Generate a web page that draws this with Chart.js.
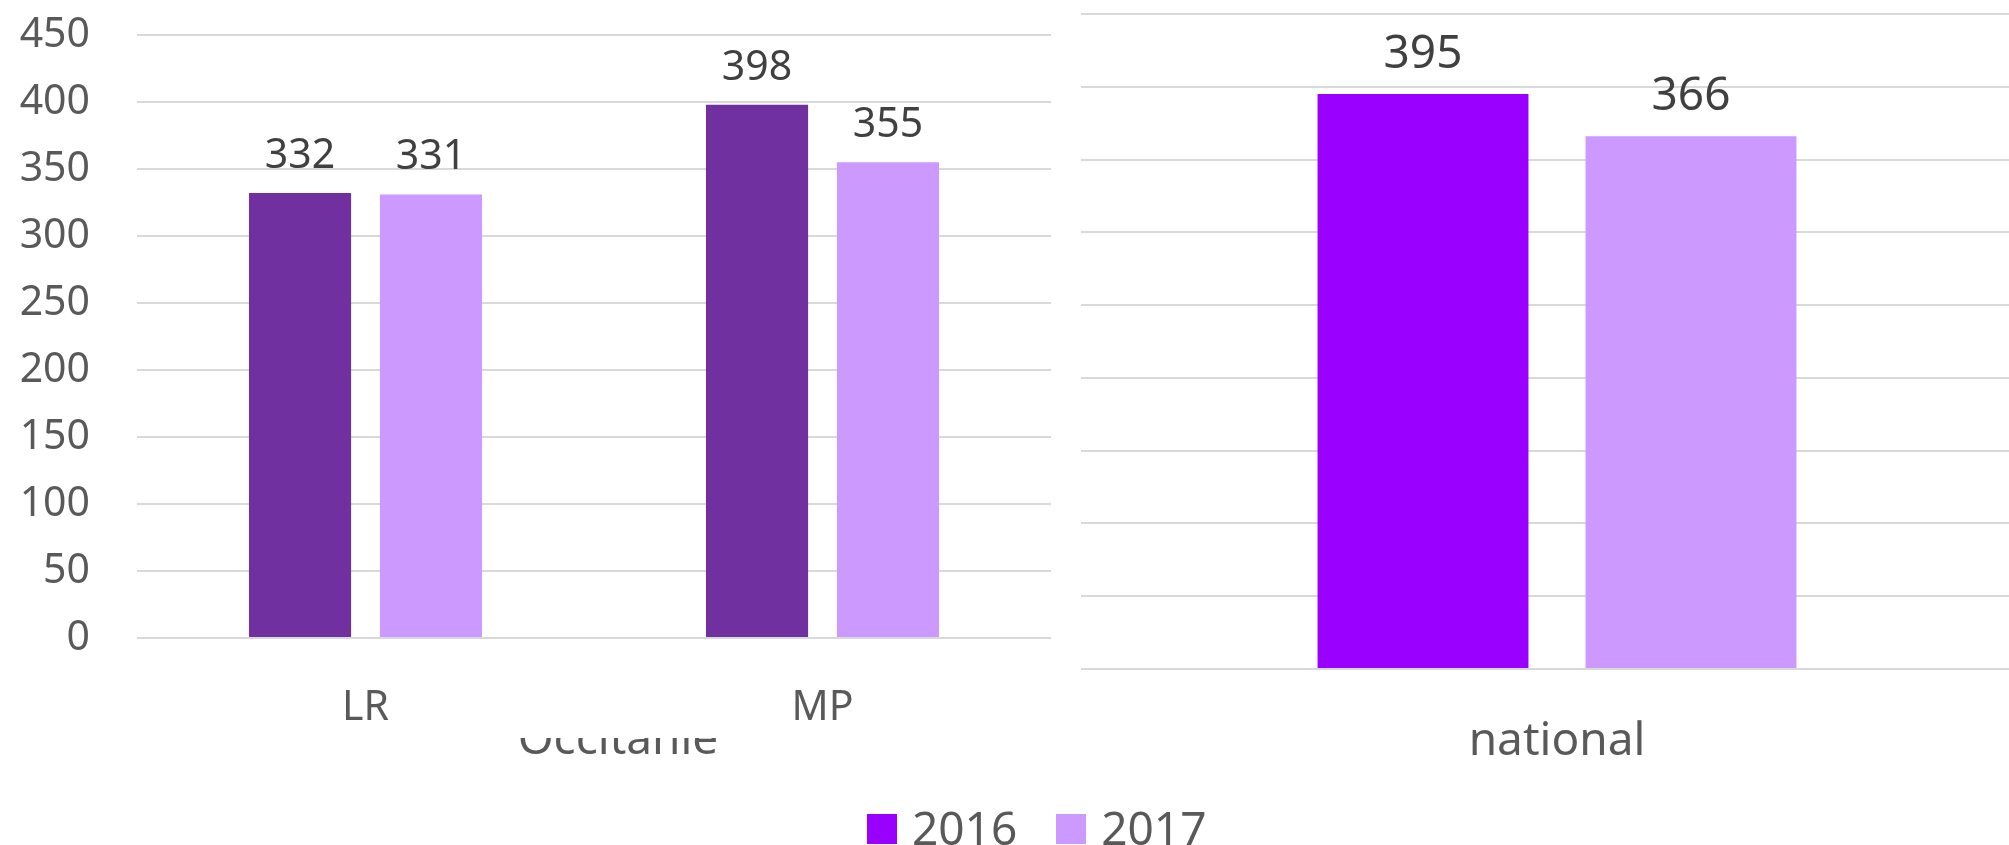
<!DOCTYPE html>
<html>
<head>
<meta charset="utf-8">
<script src="https://cdn.jsdelivr.net/npm/chart.js@4/dist/chart.umd.min.js"></script>
<style>
  html, body { margin: 0; padding: 0; background: #fff; overflow: hidden; width: 2009px; height: 845px; }
  #regionChart { position: absolute; left: 0; top: 0; }
  #nationalChart { position: absolute; left: 1060px; top: 0; }
  #legend { position: absolute; left: 867px; top: 804px; display: flex; align-items: center;
            font-family: "Noto Sans", sans-serif; font-size: 46px; color: #595959; line-height: 46px; }
  #legend .item { display: flex; align-items: center; margin-right: 39px; }
  #legend .box { width: 30px; height: 30px; margin-right: 15px; margin-top: 4px; }
</style>
</head>
<body>
<canvas id="regionChart" width="1060" height="845"></canvas>
<canvas id="nationalChart" width="973" height="845"></canvas>
<div id="legend"></div>
<script>
// Values
const regionCategories = ['LR', 'MP'];
const region2016 = [332, 398];
const region2017 = [331, 355];
const regionGroupLabel = 'Occitanie';

const nationalCategories = ['national'];
const national2016 = [395];
const national2017 = [366];

const seriesNames = ['2016', '2017'];
const yMin = 0;
const yMax = 450;
const yStep = 50;

// Colours
const regionColours = ['#7030A0', '#CC99FF'];
const nationalColours = ['#9900FF', '#CC99FF'];
const legendColours = ['#9900FF', '#CC99FF'];
const gridColour = '#d9d9d9';
const axisText = '#595959';
const valueText = '#404040';

Chart.defaults.font.family = '"Noto Sans", sans-serif';
Chart.defaults.animation = false;

// Draws each bar's value just above it
function valueLabels(fontSize, gap) {
    return {
        id: 'valueLabels',
        afterDatasetsDraw(chart) {
            const ctx = chart.ctx;
            ctx.save();
            ctx.font = fontSize + 'px "Noto Sans", sans-serif';
            ctx.fillStyle = valueText;
            ctx.textAlign = 'center';
            ctx.textBaseline = 'alphabetic';
            chart.data.datasets.forEach((ds, i) => {
                chart.getDatasetMeta(i).data.forEach((bar, j) => {
                    ctx.fillText(String(ds.data[j]), bar.x, bar.y - gap);
                });
            });
            ctx.restore();
        }
    };
}

// Group title under the region chart, with its top cut off as in the original
const groupTitle = {
    id: 'groupTitle',
    afterDraw(chart) {
        const ctx = chart.ctx;
        ctx.save();
        ctx.beginPath();
        ctx.rect(0, 738, chart.width, chart.height - 738);
        ctx.clip();
        ctx.font = '46px "Noto Sans", sans-serif';
        ctx.fillStyle = axisText;
        ctx.textAlign = 'center';
        ctx.textBaseline = 'alphabetic';
        ctx.fillText(regionGroupLabel, 618, 754);
        ctx.restore();
    }
};

function makeDatasets(a, b, colours, catPct, barPct) {
    return [a, b].map((data, i) => ({
        label: seriesNames[i],
        data: data,
        backgroundColor: colours[i],
        borderWidth: 0,
        categoryPercentage: catPct,
        barPercentage: barPct
    }));
}

new Chart(document.getElementById('regionChart'), {
    type: 'bar',
    data: {
        labels: regionCategories,
        datasets: makeDatasets(region2016, region2017, regionColours, 0.573, 0.78)
    },
    options: {
        responsive: false,
        layout: { padding: { top: 35, right: 9, bottom: 0, left: 0 } },
        plugins: { legend: { display: false }, tooltip: { enabled: false } },
        scales: {
            x: {
                grid: { display: false },
                border: { display: false },
                ticks: { color: axisText, font: { size: 41 }, padding: 38 },
                afterFit(scale) { scale.height = 845 - 638; }
            },
            y: {
                min: yMin, max: yMax,
                grid: { color: gridColour, lineWidth: 2, drawTicks: false },
                border: { display: false },
                ticks: { stepSize: yStep, color: axisText, font: { size: 41 }, padding: 47 },
                afterFit(scale) {
                    scale.width = 137;
                    scale.paddingTop = 0;
                    scale.paddingBottom = 0;
                }
            }
        }
    },
    plugins: [valueLabels(41, 25), groupTitle]
});

new Chart(document.getElementById('nationalChart'), {
    type: 'bar',
    data: {
        labels: nationalCategories,
        datasets: makeDatasets(national2016, national2017, nationalColours, 0.563, 0.787)
    },
    options: {
        responsive: false,
        layout: { padding: { top: 14, right: 0, bottom: 0, left: 0 } },
        plugins: { legend: { display: false }, tooltip: { enabled: false } },
        scales: {
            x: {
                grid: { display: false },
                border: { display: false },
                ticks: { color: axisText, font: { size: 46 }, padding: 37 },
                afterFit(scale) { scale.height = 845 - 669; }
            },
            y: {
                min: yMin, max: yMax,
                grid: { color: gridColour, lineWidth: 2, drawTicks: false },
                border: { display: false },
                ticks: { stepSize: yStep, display: false },
                afterFit(scale) { scale.width = 21; }
            }
        }
    },
    plugins: [valueLabels(46, 26)]
});

// Shared legend
const legend = document.getElementById('legend');
seriesNames.forEach((name, i) => {
    const item = document.createElement('div');
    item.className = 'item';
    const box = document.createElement('span');
    box.className = 'box';
    box.style.background = legendColours[i];
    const text = document.createElement('span');
    text.textContent = name;
    item.appendChild(box);
    item.appendChild(text);
    legend.appendChild(item);
});
</script>
</body>
</html>
